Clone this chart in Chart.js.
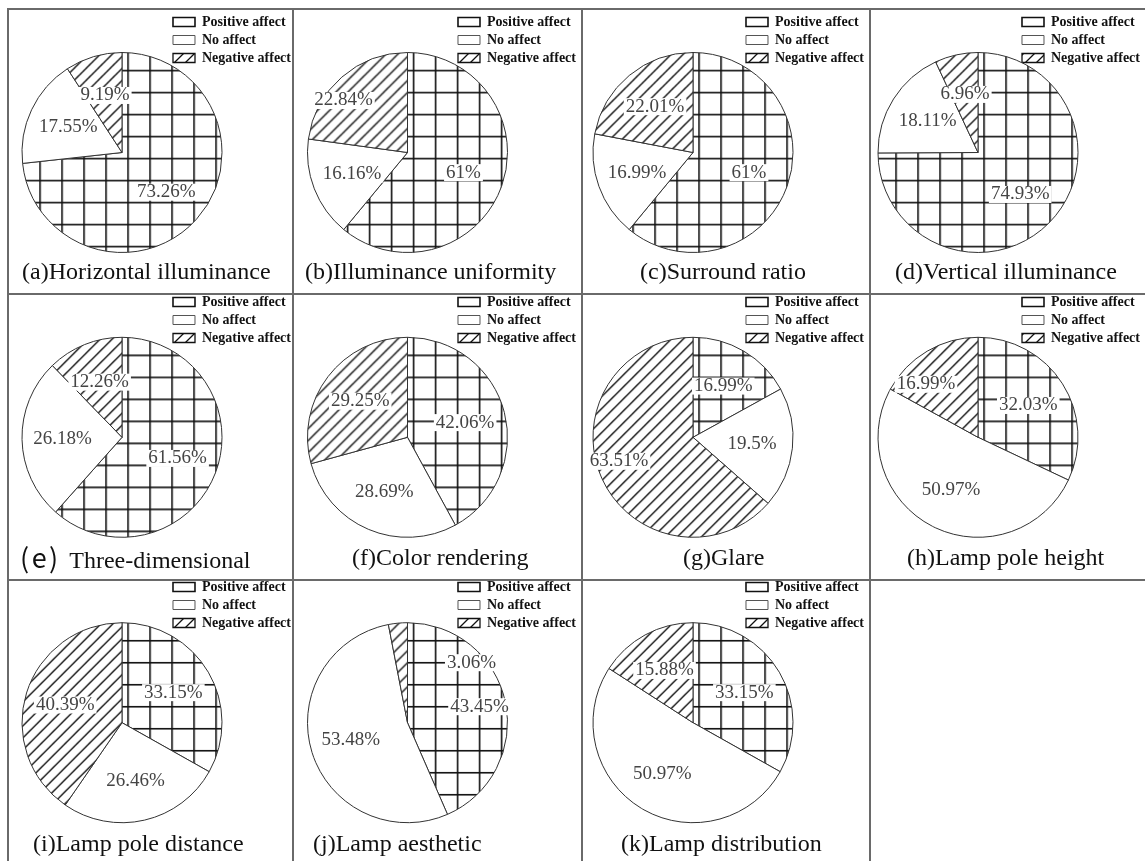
<!DOCTYPE html>
<html><head><meta charset="utf-8">
<script src="https://cdn.jsdelivr.net/npm/chart.js@4.4.1/dist/chart.umd.min.js"></script>
<style>
html,body{margin:0;padding:0;background:#fff;}
#page{position:relative;width:1145px;height:861px;overflow:hidden;background:#fff;}
.line{position:absolute;background:#6a6a6a;}
.cell{position:absolute;overflow:hidden;}
.cell canvas{position:absolute;}
.cap{position:absolute;white-space:nowrap;font-family:"Liberation Serif","Times New Roman",serif;font-size:24px;line-height:28px;color:#111;}
.cap .cjk{font-family:"Noto Sans CJK SC",sans-serif;font-size:27px;letter-spacing:2.5px;}
</style></head><body><div id="page"></div>
<script>
// ---------------- data ----------------
const categories = ['Positive affect', 'No affect', 'Negative affect'];
const captions = ['(a)Horizontal illuminance', '(b)Illuminance uniformity', '(c)Surround ratio', '(d)Vertical illuminance',
  '(e) Three-dimensional', '(f)Color rendering', '(g)Glare', '(h)Lamp pole height',
  '(i)Lamp pole distance', '(j)Lamp aesthetic', '(k)Lamp distribution'];
const positiveAffect = [73.26, 61, 61, 74.93, 61.56, 42.06, 16.99, 32.03, 33.15, 43.45, 33.15];
const noAffect = [17.55, 16.16, 16.99, 18.11, 26.18, 28.69, 19.5, 50.97, 26.46, 53.48, 50.97];
const negativeAffect = [9.19, 22.84, 22.01, 6.96, 12.26, 29.25, 63.51, 16.99, 40.39, 3.06, 15.88];

// ---------------- layout / style ----------------
const colLines = [8, 293, 582, 870, 1147];
const rowLines = [9, 294, 580, 863];
const pieCenterX = [114, 114.5, 111, 108];
const pieCenterY = [143.5, 143, 143];
const legendBoxLeft = [165, 165, 164, 152];
const legendTextY = [13, 7.7, 7.3];
const captionLeft = [14, 12, 58, 25, 12, 59, 101, 37, 25, 20, 39];
const captionMidY = [262, 263, 263];
const labelNudge = {1: {2: [-0.64, -0.52]}, 6: {2: [-0.74, 0.24]}, 7: {2: [-0.52, -0.53]}, 9: {0: [0.72, -0.16], 2: [0.64, -0.60]}};
const LEG_FONT = 14, LEG_PAD = 4, BOX_W = 22, BOX_H = 9;
const SERIF = '"Liberation Serif", "Times New Roman", serif';

const page = document.getElementById('page');
function addLine(x, y, w, h) {
  const d = document.createElement('div'); d.className = 'line';
  d.style.left = x + 'px'; d.style.top = y + 'px'; d.style.width = w + 'px'; d.style.height = h + 'px';
  page.appendChild(d);
}
for (let c = 0; c < 4; c++) addLine(colLines[c] - 1, rowLines[0] - 1, 2, 861);
for (let r = 0; r < 3; r++) addLine(colLines[0] - 1, rowLines[r] - 1, 1145, 2);

function makeGrid(step, lw, color) {
  const c = document.createElement('canvas'); c.width = c.height = step;
  const g = c.getContext('2d');
  g.fillStyle = '#fff'; g.fillRect(0, 0, step, step);
  g.fillStyle = color; g.fillRect(0, 0, lw, step); g.fillRect(0, 0, step, lw);
  return g.createPattern(c, 'repeat');
}
function makeHatch(step, lw, color) {
  const c = document.createElement('canvas'); c.width = c.height = step;
  const g = c.getContext('2d');
  g.fillStyle = '#fff'; g.fillRect(0, 0, step, step);
  g.strokeStyle = color; g.lineWidth = lw; g.beginPath();
  g.moveTo(-2, step + 2); g.lineTo(step + 2, -2);
  g.moveTo(-2, 2); g.lineTo(2, -2);
  g.moveTo(step - 2, step + 2); g.lineTo(step + 2, step - 2);
  g.stroke();
  return g.createPattern(c, 'repeat');
}

const mctx = document.createElement('canvas').getContext('2d');
mctx.font = 'bold ' + LEG_FONT + 'px ' + SERIF;
const maxText = Math.max(...categories.map(t => mctx.measureText(t).width));
const colW = BOX_W + LEG_FONT / 2 + maxText;
const legendW = LEG_PAD + colW + 10;

const baseGen = (Chart.overrides.doughnut && Chart.overrides.doughnut.plugins.legend.labels.generateLabels) ||
  Chart.controllers.doughnut.overrides.plugins.legend.labels.generateLabels;

captions.forEach((cap, k) => {
  const c = k % 4, r = Math.floor(k / 4);
  const X = colLines[c], Y = rowLines[r];
  const cell = document.createElement('div'); cell.className = 'cell';
  cell.style.left = (X + 1) + 'px'; cell.style.top = (Y + 1) + 'px';
  cell.style.width = (colLines[c + 1] - X - 2) + 'px'; cell.style.height = (rowLines[r + 1] - Y - 2) + 'px';
  page.appendChild(cell);

  const Wc = Math.round(legendBoxLeft[c] + colW + 10);
  const Hc = 300;
  const oy = legendTextY[r] - 13;
  const pt = 2;
  const cyC = pieCenterY[r] - oy;
  const pb = pt + Hc - 2 * cyC;
  const cx = pieCenterX[c];
  const pl = 2 * cx - Wc + legendW;

  const cv = document.createElement('canvas');
  cv.width = Wc; cv.height = Hc;
  cv.style.width = Wc + 'px'; cv.style.height = Hc + 'px';
  cv.style.left = '-1px'; cv.style.top = (oy - 1) + 'px';
  cell.appendChild(cv);

  const grid = makeGrid(22, 1.6, '#111');
  const hatch = makeHatch(12, 1.4, '#111');
  const legHatch = makeHatch(11, 1.3, '#111');
  const nudge = labelNudge[k] || {};

  const patternAnchor = {
    id: 'patternAnchor',
    beforeDatasetsDraw(chart) {
      const a = chart.getDatasetMeta(0).data[0];
      grid.setTransform(new DOMMatrix().translate(a.x + 6 - 0.8, a.y + 6 - 0.8));
      hatch.setTransform(new DOMMatrix().translate(a.x, a.y));
    }
  };
  const pctLabels = {
    id: 'pctLabels',
    afterDatasetsDraw(chart) {
      const ctx = chart.ctx, meta = chart.getDatasetMeta(0), vals = chart.data.datasets[0].data;
      ctx.save();
      ctx.font = '19px ' + SERIF; ctx.textAlign = 'center'; ctx.textBaseline = 'middle';
      meta.data.forEach((arc, i) => {
        const {x, y, startAngle, endAngle, outerRadius} = arc.getProps(['x', 'y', 'startAngle', 'endAngle', 'outerRadius'], true);
        let px, py;
        if (nudge[i]) { px = x + nudge[i][0] * outerRadius; py = y + nudge[i][1] * outerRadius; }
        else { const m = (startAngle + endAngle) / 2; px = x + Math.cos(m) * 0.595 * outerRadius; py = y + Math.sin(m) * 0.595 * outerRadius; }
        const t = vals[i] + '%';
        const w = ctx.measureText(t).width;
        ctx.fillStyle = '#fff'; ctx.fillRect(px - w / 2 - 2, py - 8.5, w + 4, 17);
        ctx.fillStyle = '#444'; ctx.fillText(t, px, py);
      });
      ctx.restore();
    }
  };

  new Chart(cv, {
    type: 'pie',
    data: {
      labels: categories,
      datasets: [{
        data: [positiveAffect[k], noAffect[k], negativeAffect[k]],
        backgroundColor: [grid, '#ffffff', hatch],
        borderColor: '#333', borderWidth: 1, hoverOffset: 0, clip: false
      }]
    },
    options: {
      responsive: false, animation: false, events: [],
      radius: 100,
      layout: {padding: {left: pl, right: 0, top: pt, bottom: pb}},
      plugins: {
        tooltip: {enabled: false},
        legend: {
          position: 'right', align: 'start', maxWidth: 400,
          labels: {
            boxWidth: BOX_W, boxHeight: BOX_H, padding: LEG_PAD, color: '#111',
            font: {family: SERIF, size: LEG_FONT, weight: 'bold'},
            generateLabels(chart) {
              const items = baseGen(chart);
              items[0].fillStyle = '#fff'; items[0].strokeStyle = '#111'; items[0].lineWidth = 1.6;
              items[1].fillStyle = '#fff'; items[1].strokeStyle = '#555'; items[1].lineWidth = 1;
              items[2].fillStyle = legHatch; items[2].strokeStyle = '#111'; items[2].lineWidth = 1.3;
              return items;
            }
          }
        }
      }
    },
    plugins: [patternAnchor, pctLabels]
  });

  const capDiv = document.createElement('div'); capDiv.className = 'cap';
  capDiv.style.left = (X + captionLeft[k]) + 'px';
  capDiv.style.top = (Y + captionMidY[r] - 14) + 'px';
  const m = cap.match(/^(\([a-z]\))\s?(.*)$/);
  if (k === 4 && m) {
    const s = document.createElement('span'); s.className = 'cjk'; s.textContent = m[1] + ' ';
    capDiv.appendChild(s); capDiv.appendChild(document.createTextNode(m[2]));
  } else capDiv.textContent = cap;
  page.appendChild(capDiv);
});
</script></body></html>
